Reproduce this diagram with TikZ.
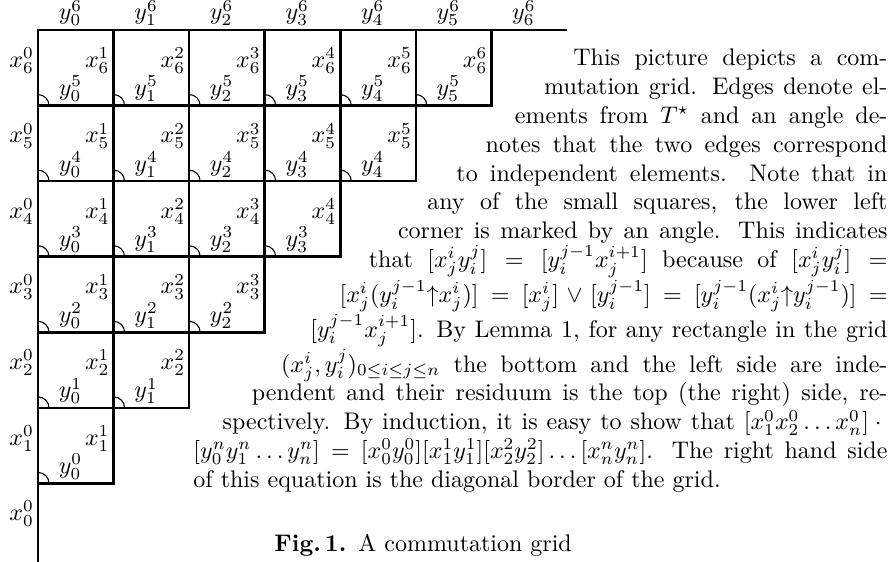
\documentclass[tikz,border=0pt]{standalone}
\tikzset{
  gridline/.style={line width=1.1pt},
  anglemark/.style={line width=0.45pt},
  lab/.style={inner sep=1.5pt},
}
\begin{document}
\begin{tikzpicture}[x=0.41667pt,y=-0.41667pt]
\useasboundingbox (0,0) rectangle (894,562);
\def\gu{75.57}
% outer lines
\draw[gridline] (38,30) -- (567,30);
\draw[gridline] (38,30) -- (38,562);
% squares and angle marks
\foreach \rr in {0,...,5}{
  \pgfmathtruncatemacro\lastc{5-\rr}
  \foreach \cc in {0,...,\lastc}{
    \draw[gridline] ({38+\cc*\gu},{30+\rr*\gu}) rectangle ++(\gu,\gu);
    \draw[anglemark] ({38+\cc*\gu+11},{30+(\rr+1)*\gu}) arc[start angle=0,end angle=-90,radius=11];
  }
}
% top labels
\foreach \cc in {0,...,6}{
  \node[lab,anchor=south] (yt\cc) at ({70.5+\cc*\gu},30) {$y^6_{\cc}$};
}
% left labels
\foreach \rr in {0,...,6}{
  \pgfmathtruncatemacro\jj{6-\rr}
  \node[lab,anchor=east] (xl\rr) at (38,{60.5+\rr*\gu}) {$x^0_{\jj}$};
}
% inner labels
\foreach \rr in {0,...,5}{
  \pgfmathtruncatemacro\lastc{5-\rr}
  \pgfmathtruncatemacro\jj{6-\rr}
  \pgfmathtruncatemacro\kk{5-\rr}
  \foreach \cc in {0,...,\lastc}{
    \pgfmathtruncatemacro\ii{\cc+1}
    \node[lab,anchor=east] (xr\rr-\cc) at ({38+(\cc+1)*\gu},{60.5+\rr*\gu}) {$x^{\ii}_{\jj}$};
    \node[lab,anchor=south] (yb\rr-\cc) at ({70.5+\cc*\gu},{30+(\rr+1)*\gu}) {$y^{\kk}_{\cc}$};
  }
}
% paragraph
\node[anchor=base west,inner sep=0pt,text width=289.17pt,align=justify] (para) at (193,66) {%
\parshape 15 158.30pt 130.87pt 146.12pt 143.05pt 133.95pt 155.22pt 121.77pt 167.40pt 109.59pt 179.58pt 97.42pt 191.75pt 85.24pt 203.93pt 73.06pt 216.11pt 60.88pt 228.29pt 48.71pt 240.46pt 36.53pt 252.64pt 24.35pt 264.82pt 12.18pt 276.99pt 0pt 289.17pt 0pt 289.17pt
\tolerance=10000 \hbadness=10000
This picture depicts a com-\linebreak
mutation grid. Edges denote el-\linebreak
ements from $T^\star$ and an angle de-\linebreak
notes that the two edges correspond\linebreak
to independent elements. Note that in\linebreak
any of the small squares, the lower left\linebreak
corner is marked by an angle. This indicates\linebreak
that $[x^i_jy^j_i] = [y^{j-1}_ix^{i+1}_j]$ because of $[x^i_jy^j_i] =$\linebreak
$[x^i_j(y^{j-1}_i{\uparrow}x^i_j)] = [x^i_j]\vee[y^{j-1}_i] = [y^{j-1}_i(x^i_j{\uparrow}y^{j-1}_i)] =$\linebreak
$[y^{j-1}_ix^{i+1}_j]$. By Lemma 1, for any rectangle in the grid\linebreak
$(x^i_j,y^j_i)_{0\le i\le j\le n}$ the bottom and the left side are inde-\linebreak
pendent and their residuum is the top (the right) side, re-\linebreak
spectively. By induction, it is easy to show that $[x^0_1x^0_2\ldots x^0_n]\cdot{}$\linebreak
$[y^n_0y^n_1\ldots y^n_n] = [x^0_0y^0_0][x^1_1y^1_1][x^2_2y^2_2]\ldots[x^n_ny^n_n]$. The right hand side\linebreak
of this equation is the diagonal border of the grid.\par};
% caption
\node[anchor=base west,inner sep=0pt] (cap) at (274,552) {\textbf{Fig.\,1.}\hspace{5pt}A commutation grid};
\end{tikzpicture}
\end{document}
